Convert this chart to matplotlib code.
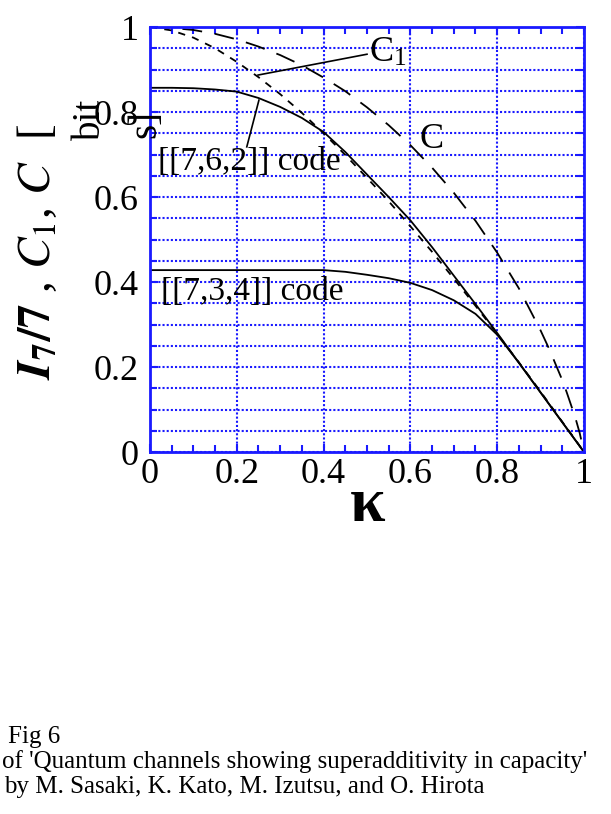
import numpy as np
import matplotlib.pyplot as plt
from matplotlib.ticker import MultipleLocator

plt.rcParams['font.family'] = ['Liberation Serif', 'DejaVu Serif']
plt.rcParams['mathtext.fontset'] = 'stix'

# capacity C (long dashes)
k_c = [0, 0.05, 0.1, 0.15, 0.2, 0.25, 0.3, 0.35, 0.4, 0.45, 0.5, 0.55, 0.6, 0.65, 0.7,
       0.75, 0.8, 0.85, 0.9, 0.92, 0.95, 0.96, 0.98, 0.99, 1.0]
cap_c = [1.0, 0.998, 0.993, 0.984, 0.971, 0.954, 0.934, 0.910, 0.881, 0.849, 0.811, 0.769,
         0.722, 0.669, 0.610, 0.544, 0.469, 0.385, 0.286, 0.242, 0.169, 0.141, 0.081, 0.045, 0.0]

# C1 (short dashes)
k_c1 = [0, 0.05, 0.1, 0.15, 0.2, 0.25, 0.3, 0.35, 0.4, 0.45, 0.5, 0.55, 0.6, 0.65, 0.7,
        0.75, 0.8, 0.85, 0.9, 0.95, 0.98, 1.0]
cap_c1 = [1.0, 0.992, 0.975, 0.950, 0.918, 0.882, 0.842, 0.798, 0.750, 0.699, 0.645, 0.590,
          0.531, 0.471, 0.408, 0.344, 0.278, 0.211, 0.142, 0.071, 0.029, 0.0]

# [[7,6,2]] code
k_762 = [0, 0.05, 0.1, 0.15, 0.2, 0.25, 0.3, 0.35, 0.4, 0.45, 0.5, 0.55, 0.6, 0.65, 0.7,
         0.75, 0.8, 0.85, 0.9, 0.95, 1.0]
i_762 = [0.857, 0.857, 0.856, 0.853, 0.848, 0.833, 0.812, 0.786, 0.753, 0.706, 0.653, 0.600,
         0.545, 0.482, 0.415, 0.348, 0.280, 0.210, 0.140, 0.070, 0.0]

# [[7,3,4]] code
k_734 = [0, 0.2, 0.4, 0.45, 0.5, 0.55, 0.6, 0.65, 0.7, 0.75, 0.8, 0.85, 0.9, 0.95, 1.0]
i_734 = [0.428, 0.428, 0.428, 0.424, 0.417, 0.409, 0.398, 0.381, 0.357, 0.325, 0.276,
         0.210, 0.140, 0.070, 0.0]

blue = '#1a1aff'

fig = plt.figure(figsize=(6.11, 8.14), dpi=100)
ax = fig.add_axes([0.2455, 0.4447, 0.7103, 0.5221])

ax.plot(k_c, cap_c, color='black', lw=1.3, dashes=(11, 7))
ax.plot(k_c1, cap_c1, color='black', lw=1.3, dashes=(4, 4))
ax.plot(k_762, i_762, color='black', lw=1.3)
ax.plot(k_734, i_734, color='black', lw=1.3)

ax.set_xlim(0, 1)
ax.set_ylim(0, 1)
ax.xaxis.set_minor_locator(MultipleLocator(0.05))
ax.yaxis.set_minor_locator(MultipleLocator(0.05))
ax.set_xticks([0, 0.2, 0.4, 0.6, 0.8, 1.0])
ax.set_xticklabels(['0', '0.2', '0.4', '0.6', '0.8', '1'])
ax.set_yticks([0, 0.2, 0.4, 0.6, 0.8, 1.0])
ax.set_yticklabels(['0', '0.2', '0.4', '0.6', '0.8', '1'])
ax.tick_params(which='both', direction='in', top=True, right=True, color=blue, width=1.5, labelsize=26)
ax.tick_params(which='major', length=6)
ax.tick_params(which='minor', length=5)
ax.tick_params(axis='x', which='major', pad=4)
ax.tick_params(axis='y', which='major', pad=8)
ax.grid(axis='x', which='major', color=blue, linestyle=(0, (1, 1)), lw=1.5)
ax.grid(axis='y', which='both', color=blue, linestyle=(0, (1, 1)), lw=1.5)
for s in ax.spines.values():
    s.set_color(blue)
    s.set_linewidth(2)

# annotations
ax.plot([0.249, 0.50], [0.887, 0.936], color='black', lw=1.2)
ax.text(0.505, 0.94, r'C$_{\mathregular{1}}$', fontsize=26, va='center', ha='left')
ax.plot([0.223, 0.251], [0.718, 0.828], color='black', lw=1.2)
ax.text(0.018, 0.682, '[[7,6,2]] code', fontsize=24, va='center', ha='left')
ax.text(0.622, 0.735, 'C', fontsize=26, va='center', ha='left')
ax.text(0.026, 0.376, '[[7,3,4]] code', fontsize=24, va='center', ha='left')

# y label (broken up like the original)
fig.text(38 / 611, 1 - 252 / 814, r'$\boldsymbol{I}_{\mathbf{7}}\mathbf{/7}$ , $C_1$, $C$  [',
         rotation=90, fontsize=34, ha='center', va='center')
fig.text(90 / 611, 1 - 119 / 814, 'bit', rotation=90, fontsize=28, ha='center', va='center')
fig.text(146 / 611, 1 - 124 / 814, 's]', rotation=90, fontsize=28, ha='center', va='center')

# x label
fig.text(368 / 611, 1 - 506 / 814, 'κ', fontsize=46, fontweight='bold', ha='center', va='center')

# caption
fig.text(8 / 611, 1 - 737 / 814, 'Fig 6', fontsize=18, ha='left', va='center')
fig.text(2 / 611, 1 - 762 / 814, "of 'Quantum channels showing superadditivity in capacity'",
         fontsize=18, ha='left', va='center')
fig.text(4 / 611, 1 - 787 / 814, 'by M. Sasaki, K. Kato, M. Izutsu, and O. Hirota',
         fontsize=18, ha='left', va='center')

fig.savefig('out.png', dpi=100)
